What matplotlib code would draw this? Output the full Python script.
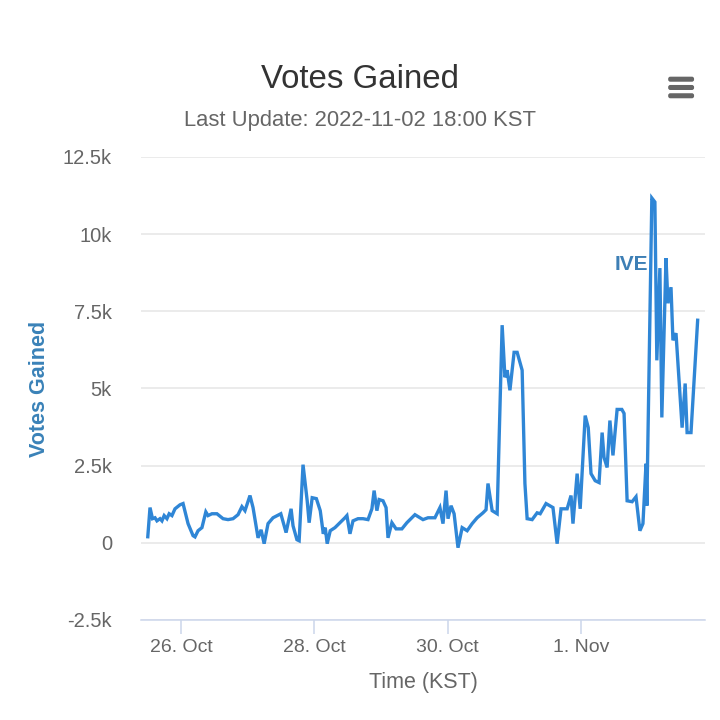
import matplotlib
matplotlib.use("Agg")
import matplotlib.pyplot as plt
import matplotlib.dates as mdates
from matplotlib.ticker import FuncFormatter
from matplotlib.patches import FancyBboxPatch
import pandas as pd

plt.rcParams['font.family'] = ['Liberation Sans', 'DejaVu Sans']

# ---- data ----
start_time = "2022-10-25 12:00"
hours = [0.0, 0.8, 1.7, 2.6, 3.3, 4.4, 5.1, 5.9, 6.9, 7.7, 8.7, 9.8, 11.6, 12.7,
         14.5, 16.3, 17.0, 18.1, 19.5, 20.9, 21.7, 23.1, 24.9, 27.1, 28.9, 30.7,
         32.5, 33.9, 35.0, 36.8, 37.9, 39.7, 40.8, 41.9, 43.3, 45.1, 47.9, 49.8,
         51.6, 52.3, 53.7, 54.5, 55.9, 57.4, 58.1, 59.2, 60.7, 62.1, 63.2, 63.9,
         64.6, 65.7, 67.4, 69.2, 71.0, 71.7, 72.8, 73.9, 75.7, 77.5, 79.3, 80.7,
         81.5, 82.5, 83.3, 84.7, 85.8, 86.5, 87.9, 89.4, 91.5, 93.3, 96.2, 99.1,
         100.9, 103.4, 105.2, 106.3, 107.4, 108.1, 109.2, 110.3, 111.7, 113.2,
         115.0, 116.8, 118.6, 120.7, 121.8, 122.5, 124.0, 125.8, 127.6, 128.6,
         129.4, 130.4, 131.9, 133.0, 134.8, 135.8, 136.6, 138.4, 140.2, 141.3,
         143.4, 145.9, 147.4, 148.8, 151.0, 152.4, 153.1, 154.6, 155.7, 157.5,
         158.6, 159.6, 161.1, 162.5, 163.6, 164.3, 165.4, 166.4, 167.5, 169.0,
         170.7, 171.5, 172.6, 174.4, 175.8, 177.2, 178.3, 179.4, 179.7, 181.5,
         182.6, 183.3, 184.4, 185.1, 186.6, 187.3, 188.4, 189.1, 190.2, 192.4,
         193.5, 194.2, 195.6, 198.0]
votes = [195, 1140, 780, 810, 710, 780, 710, 880, 780, 940, 880, 1100, 1230, 1270,
         620, 230, 190, 390, 490, 1000, 880, 940, 940, 780, 750, 780,
         910, 1170, 1040, 1530, 1140, 160, 420, -30, 620, 810, 940, 330,
         1100, 550, 100, 65, 2530, 1360, 650, 1460, 1430, 1040, 290, 490,
         -30, 390, 490, 650, 810, 880, 290, 710, 780, 780, 750, 1100,
         1690, 1040, 1400, 1360, 1140, 160, 650, 450, 450, 650, 910, 750,
         810, 810, 1140, 620, 1690, 780, 1200, 940, -160, 490,
         390, 620, 810, 970, 1070, 1920, 1040, 940, 7050, 5360,
         5590, 4940, 6170, 6170, 5590, 1920, 780, 750, 970, 940,
         1270, 1140, -30, 1100, 1100, 1530, 620, 2240, 1100, 4120,
         3730, 2240, 2010, 1950, 3570, 2760, 2440, 3960, 2830, 4320,
         4320, 4190, 1360, 1330, 1490, 390, 620, 2560, 1200, 11170,
         11040, 5910, 8900, 4060, 9220, 7760, 8280, 6560, 6790, 3730,
         5160, 3570, 3570, 7210]
series_name = "IVE"
x_tick_dates = ["2022-10-26", "2022-10-28", "2022-10-30", "2022-11-01"]
y_ticks = [-2500, 0, 2500, 5000, 7500, 10000, 12500]

times = pd.Timestamp(start_time) + pd.to_timedelta(hours, unit="h")

fig = plt.figure(figsize=(7.2, 7.2), dpi=100)
fig.patch.set_facecolor("white")
ax = fig.add_axes([0.196, 0.139, 0.783, 0.643])

line_color = "#2f86d6"
ax.plot(times, votes, color=line_color, lw=2.4, solid_joinstyle="miter")

t0 = pd.Timestamp(start_time)
ax.set_xlim(t0 - pd.Timedelta(hours=2.4), t0 + pd.Timedelta(hours=200.6))
ax.set_ylim(-2500, 12500)

ax.set_yticks(y_ticks)
def kfmt(v, pos):
    if v == 0:
        return "0"
    return f"{v/1000:g}k"
ax.yaxis.set_major_formatter(FuncFormatter(kfmt))
ax.set_xticks(pd.to_datetime(x_tick_dates))
def dfmt(v, pos):
    d = mdates.num2date(v)
    return f"{d.day}. {d.strftime('%b')}"
ax.xaxis.set_major_formatter(FuncFormatter(dfmt))

ax.grid(axis="y", color="#e6e6e6", lw=1.1)
ax.set_axisbelow(True)
for s in ["top", "right", "left"]:
    ax.spines[s].set_visible(False)
ax.spines["bottom"].set_color("#ccd6eb")
ax.spines["bottom"].set_linewidth(1.1)
ax.tick_params(axis="y", length=0, labelsize=14.5, labelcolor="#666666", pad=21)
ax.tick_params(axis="x", length=10, width=1.1, color="#ccd6eb", labelsize=14,
               labelcolor="#666666", pad=4)

ax.set_xlabel("Time (KST)", fontsize=15.5, color="#666666", labelpad=11)
ax.set_ylabel("Votes Gained", fontsize=15.5, color="#3a82b8", fontweight="bold",
              labelpad=9)

# series label near the peak
imax = max(range(len(votes)), key=lambda i: votes[i])
ax.annotate(series_name, xy=(times[imax], 9000), xytext=(-3, 0),
            textcoords="offset points", fontsize=15, fontweight="bold",
            color="#3d7fb5", ha="right", va="center")

fig.text(0.5, 0.889, "Votes Gained", ha="center", va="center", fontsize=23.8,
         color="#333333")
fig.text(0.5, 0.832, "Last Update: 2022-11-02 18:00 KST", ha="center",
         va="center", fontsize=15.8, color="#666666")

# menu (hamburger) icon
for yy in [0.890, 0.8785, 0.867]:
    fig.patches.append(FancyBboxPatch((0.928, yy - 0.0035), 0.036, 0.007,
                                      boxstyle="round,pad=0,rounding_size=0.003",
                                      transform=fig.transFigure,
                                      facecolor="#666666", edgecolor="none"))

fig.savefig("out.png", dpi=100, facecolor="white")
